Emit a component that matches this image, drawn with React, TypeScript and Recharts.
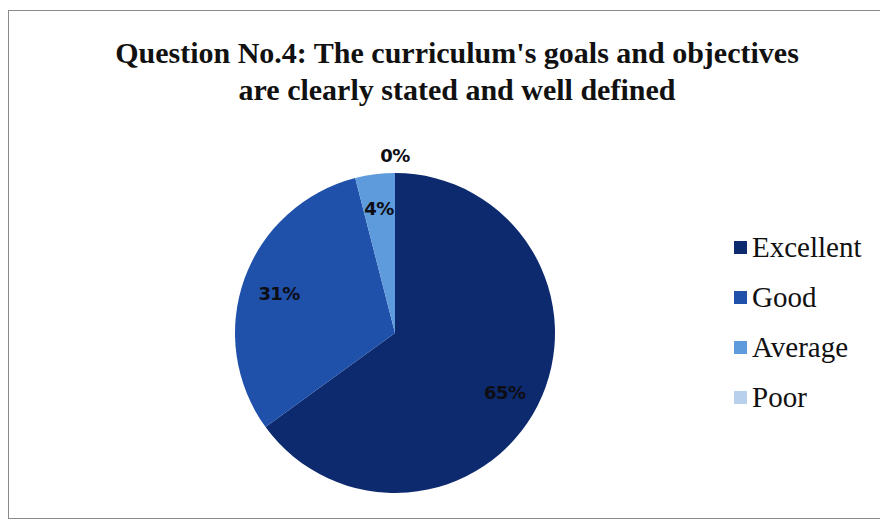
import { Cell, Legend, Pie, PieChart } from "recharts";

const categories = ["Excellent", "Good", "Average", "Poor"];
const values = [65, 31, 4, 0];
const colors = ["#0D2A6E", "#1F50AA", "#5D9BDC", "#B9D0EC"];

const data = categories.map((name, i) => ({ name, value: values[i], color: colors[i] }));

const RAD = Math.PI / 180;

function renderLabel(props: any) {
  const { cx, cy, midAngle, outerRadius, value } = props;
  const r = value === 0 ? outerRadius + 20 : value < 10 ? outerRadius * 0.8 : outerRadius * 0.77;
  const x = cx + r * Math.cos(-midAngle * RAD);
  const y = cy + r * Math.sin(-midAngle * RAD) + (value > 50 ? 4 : 2);
  return (
    <text
      x={x}
      y={y}
      textAnchor="middle"
      dominantBaseline="central"
      fill="#0d0d14"
      fontFamily="'DejaVu Sans', sans-serif"
      fontWeight="bold"
      fontSize={18}
      letterSpacing={-0.6}
    >
      {`${value}%`}
    </text>
  );
}

function LegendContent() {
  return (
    <div style={{ fontFamily: "'Liberation Serif', 'Times New Roman', serif", fontSize: 29, color: "#111" }}>
      {data.map((d) => (
        <div key={d.name} style={{ display: "flex", alignItems: "center", height: 50 }}>
          <span style={{ width: 13, height: 13, background: d.color, marginRight: 5, display: "inline-block" }} />
          <span>{d.name}</span>
        </div>
      ))}
    </div>
  );
}

export default function App() {
  return (
    <div
      style={{
        position: "relative",
        width: 878,
        height: 507,
        marginTop: 2,
        border: "1px solid #8a8a8a",
        background: "#fff",
      }}
    >
      <div
        style={{
          position: "absolute",
          left: 0,
          top: 23,
          width: 896,
          textAlign: "center",
          fontFamily: "'Liberation Serif', 'Times New Roman', serif",
          fontWeight: "bold",
          fontSize: 30,
          lineHeight: "37px",
          color: "#111",
        }}
      >
        Question No.4: The curriculum's goals and objectives
        <br />
        are clearly stated and well defined
      </div>
      <PieChart width={878} height={507}>
        <Pie
          data={data}
          dataKey="value"
          nameKey="name"
          cx={381}
          cy={317}
          outerRadius={160}
          startAngle={90}
          endAngle={-270}
          stroke="none"
          label={renderLabel}
          labelLine={false}
          isAnimationActive={false}
        >
          {data.map((d) => (
            <Cell key={d.name} fill={d.color} />
          ))}
        </Pie>
        <Legend
          layout="vertical"
          align="right"
          verticalAlign="top"
          wrapperStyle={{ left: 725, top: 211, width: 153 }}
          content={<LegendContent />}
        />
      </PieChart>
    </div>
  );
}
